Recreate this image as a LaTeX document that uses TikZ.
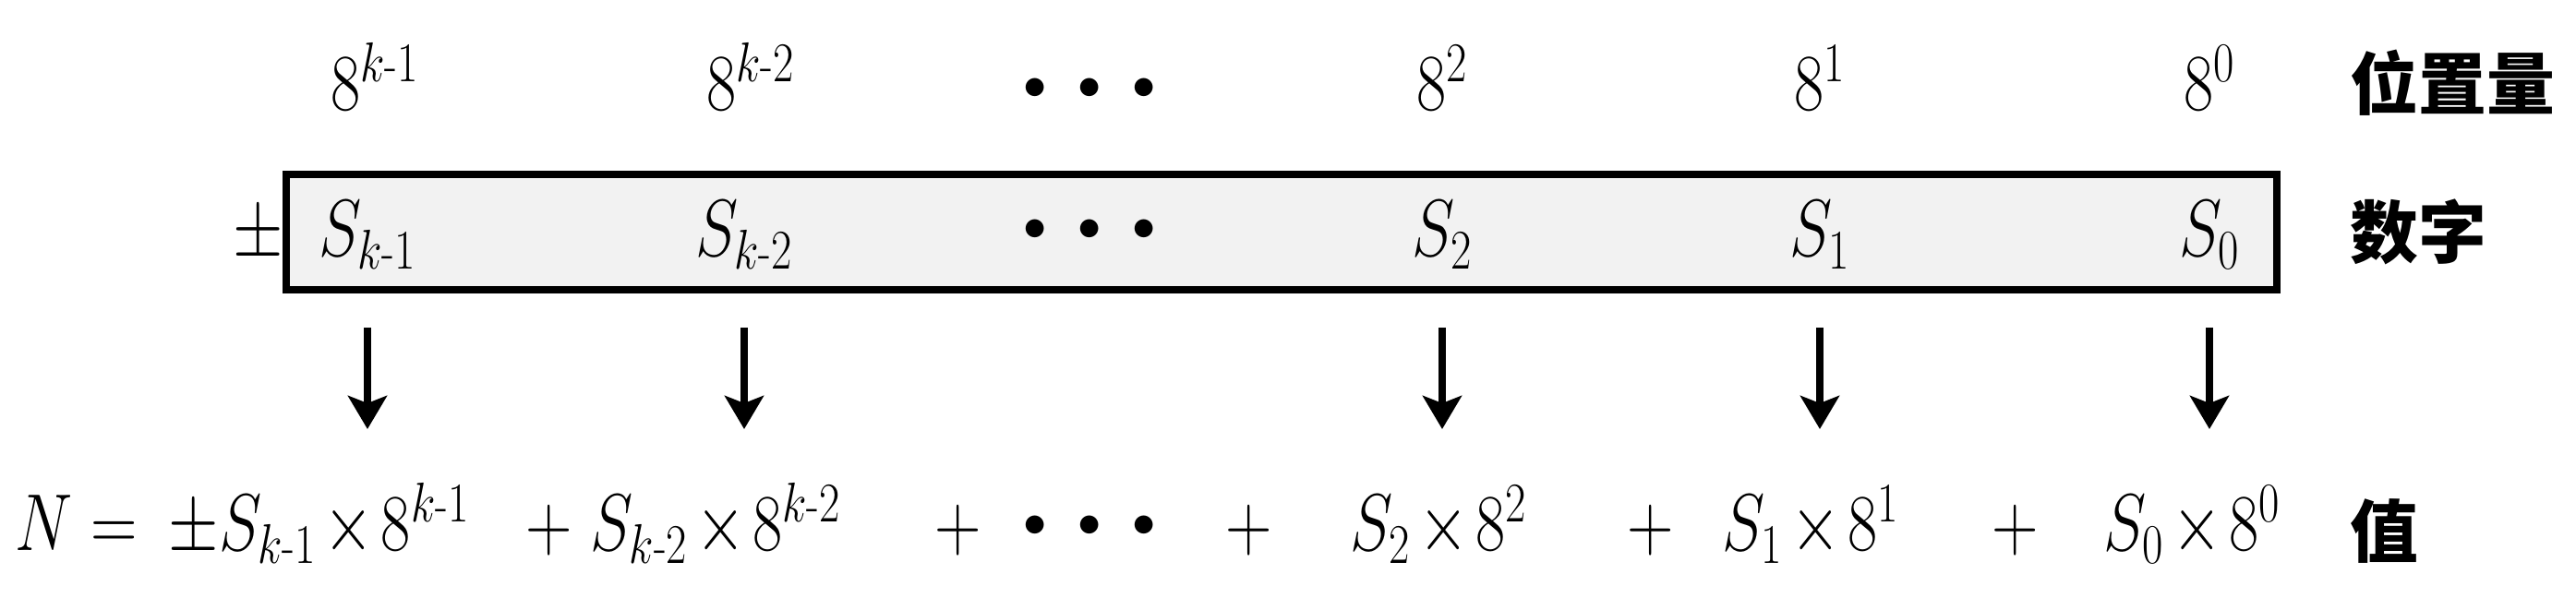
\documentclass[tikz,border=0pt]{standalone}
\usepackage{fontspec}
\usepackage{amsmath}
\usepackage{graphicx}
\newfontfamily\cjk{Noto Sans CJK SC}
\usetikzlibrary{arrows.meta}
\newcommand{\nm}[1]{\scalebox{0.8}[1]{$\medmuskip=2mu #1$}}
\newcommand{\km}[1]{k\text{-}#1}
\newcommand{\dotrow}{$\bullet\mkern8mu\bullet\mkern8mu\bullet$}

\begin{document}
\begin{tikzpicture}[>={Stealth[length=3.6mm,width=4.2mm,inset=0.8mm]},
  every node/.style={inner sep=0pt,font=\fontsize{23}{27}\selectfont},
  num/.style={anchor=base},
  term/.style={anchor=base west},
  dotlbl/.style={anchor=base,font=\fontsize{14}{16}\selectfont},
  word/.style={anchor=west,font=\fontsize{21}{25}\selectfont\cjk\bfseries}]
\useasboundingbox (0,0) rectangle (27.9,6.48);
% the row of digits
\node[draw,line width=2.4pt,fill=gray!10,minimum width=21.56cm,minimum height=1.25cm] (box) at (13.88,3.965) {};
\node[num] (sign) at (2.80,3.70) {\nm{\pm}};
\foreach \x/\lx/\w/\s [count=\i] in {3.98/4.06/{8^{\km1}}/{S_{\km1}},8.06/8.13/{8^{\km2}}/{S_{\km2}},15.62/15.62/{8^2}/{S_2},19.71/19.71/{8^1}/{S_1},23.93/23.93/{8^0}/{S_0}}{
  \node[num] (w\i) at (\lx,5.28) {\nm{\w}};
  \node[num] (s\i) at (\x,3.70) {\nm{\s}};
  \coordinate (a\i) at (\x,2.93);
  \coordinate (b\i) at (\x,1.83);
  \draw[->,line width=2.4pt] (a\i)--(b\i);
}
\node[dotlbl] (wdots) at (11.80,5.40) {\dotrow};
\node[dotlbl] (sdots) at (11.80,3.87) {\dotrow};
% the value
\node[term] (n) at (0.16,0.51) {\nm{N=}};
\node[term] (t1) at (1.82,0.51) {\nm{\pm S_{\km1}\times 8^{\km1}}};
\node[term] (t2) at (6.39,0.51) {\nm{S_{\km2}\times 8^{\km2}}};
\node[term] (t3) at (14.62,0.51) {\nm{S_2\times 8^2}};
\node[term] (t4) at (18.65,0.51) {\nm{S_1\times 8^1}};
\node[term] (t5) at (22.78,0.51) {\nm{S_0\times 8^0}};
\foreach \x [count=\i] in {5.95,10.38,13.53,17.88,21.83}
  \node[num] (p\i) at (\x,0.51) {\nm{+}};
\node[dotlbl] (vdots) at (11.80,0.66) {\dotrow};
% labels on the right
\node[word] (lpos) at (25.45,5.58) {位置量};
\node[word] (ldig) at (25.45,3.97) {数字};
\node[word] (lval) at (25.45,0.72) {值};
\end{tikzpicture}
\end{document}
